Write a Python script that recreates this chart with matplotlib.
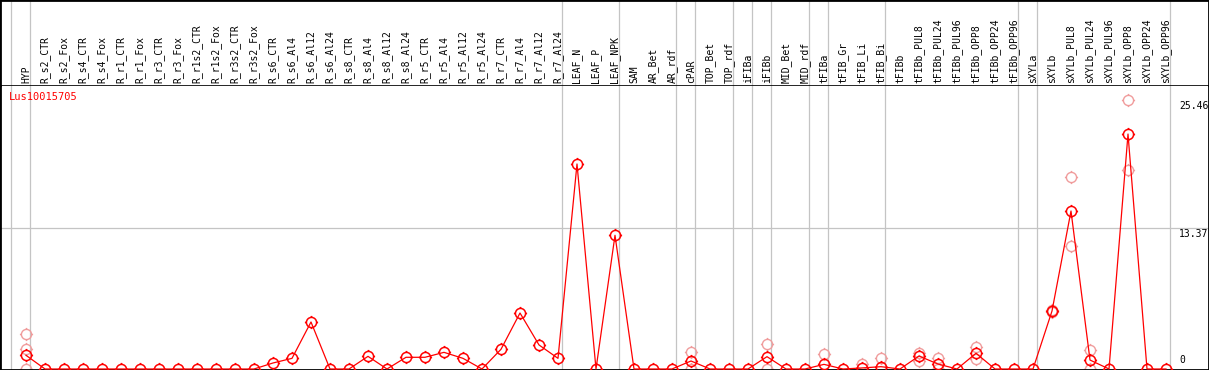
import numpy as np
import matplotlib
matplotlib.use("Agg")
import matplotlib.pyplot as plt
from matplotlib.path import Path

plt.rcParams['font.family'] = ['DejaVu Sans Mono']

# Sample labels (one column per tissue / treatment)
samples = ["HYP", "R_s2_CTR", "R_s2_Fox", "R_s4_CTR", "R_s4_Fox", "R_r1_CTR", "R_r1_Fox",
           "R_r3_CTR", "R_r3_Fox", "R_r1s2_CTR", "R_r1s2_Fox", "R_r3s2_CTR", "R_r3s2_Fox",
           "R_s6_CTR", "R_s6_Al4", "R_s6_Al12", "R_s6_Al24", "R_s8_CTR", "R_s8_Al4",
           "R_s8_Al12", "R_s8_Al24", "R_r5_CTR", "R_r5_Al4", "R_r5_Al12", "R_r5_Al24",
           "R_r7_CTR", "R_r7_Al4", "R_r7_Al12", "R_r7_Al24", "LEAF_N", "LEAF_P", "LEAF_NPK",
           "SAM", "AR_Bet", "AR_rdf", "cPAR", "TOP_Bet", "TOP_rdf", "iFIBa", "iFIBb",
           "MID_Bet", "MID_rdf", "tFIBa", "tFIB_Gr", "tFIB_Li", "tFIB_Bi", "tFIBb",
           "tFIBb_PUL8", "tFIBb_PUL24", "tFIBb_PUL96", "tFIBb_OPP8", "tFIBb_OPP24",
           "tFIBb_OPP96", "sXYLa", "sXYLb", "sXYLb_PUL8", "sXYLb_PUL24", "sXYLb_PUL96",
           "sXYLb_OPP8", "sXYLb_OPP24", "sXYLb_OPP96"]

# mean expression
means = [1.30, 0, 0, 0, 0, 0, 0, 0, 0, 0, 0, 0, 0,
         0.57, 1.01, 4.46, 0, 0, 1.20, 0, 1.11, 1.11, 1.58, 1.01, 0,
         1.87, 5.31, 2.28, 1.01, 19.44, 0, 12.68,
         0, 0, 0, 0.76, 0, 0, 0, 1.17, 0, 0, 0.44, 0, 0.10, 0.22, 0,
         1.23, 0.47, 0, 1.49, 0, 0, 0, 5.50, 14.98, 0.85, 0, 22.28, 0, 0]

# individual replicates (only where they differ from the mean)
replicates = {"HYP": [3.32, 1.87, 0], "cPAR": [1.58, 0], "iFIBb": [2.37, 0],
              "tFIBa": [1.45], "tFIB_Li": [0.47], "tFIB_Bi": [1.01],
              "tFIBb_PUL8": [1.49, 0.79], "tFIBb_PUL24": [1.04, 0],
              "tFIBb_OPP8": [2.12, 0.95], "sXYLb": [5.60, 5.40],
              "sXYLb_PUL8": [18.18, 11.69], "sXYLb_PUL24": [1.77, 0],
              "sXYLb_OPP8": [25.46, 18.87]}

# last sample of each group (separator drawn after it), -1 = before first
group_ends = [-1, 0, 28, 31, 34, 35, 37, 38, 39, 41, 42, 45, 52, 53, 60]

yticks = [0, 13.37, 25.46]
gene = "Lus10015705"

# circle marker with four small ticks outside
circ = Path.unit_circle()
ticks = []
for dx, dy in [(1, 0), (-1, 0), (0, 1), (0, -1)]:
    ticks.append(Path([(dx, dy), (1.3 * dx, 1.3 * dy)], [Path.MOVETO, Path.LINETO]))
tick_circle = Path.make_compound_path(circ, *ticks)

W, H = 1209, 370
fig = plt.figure(figsize=(W / 100, H / 100), dpi=100)
top = 85
ax = fig.add_axes([0, 0, 1, (H - top) / H])
lab = fig.add_axes([0, (H - top) / H, 1, top / H], sharex=ax)

x = np.arange(len(samples))
px_per_unit = 10.546
ax.set_xlim(-26 / 19, (W - 26) / 19)
ax.set_ylim(-1 / px_per_unit, (H - 1 - top) / px_per_unit)
lab.set_ylim(0, 1)

grey = '#c4c4c4'
for g in group_ends:
    ax.axvline(g + 4 / 19, color=grey, lw=0.9, zorder=0)
    lab.axvline(g + 4 / 19, color=grey, lw=0.9, zorder=0)
ax.axhline(13.37, color=grey, lw=0.9, zorder=0)

# replicate points
rx, ry = [], []
for name, vals in replicates.items():
    for v in vals:
        rx.append(samples.index(name))
        ry.append(v)
pink = '#f09c9c'
ax.plot(rx, ry, ls='none', marker=tick_circle, ms=9.5, mfc='none', mec=pink, mew=1.0, zorder=2)

# means
ax.plot(x, means, color='red', lw=0.9, zorder=3)
ax.plot(x, means, ls='none', marker=tick_circle, ms=9.5, mfc='none', mec='red', mew=1.1, zorder=3)

for t in yticks:
    if t == 0:
        ax.text(60.68, 0.35, "0", fontsize=7, ha='left', va='bottom')
    else:
        ax.text(60.68, t - 0.05, f"{t:.2f}", fontsize=7, ha='left', va='top')

ax.text(9 / W, (H - 92) / (H - top), gene, transform=ax.transAxes, color='red',
        fontsize=7.5, ha='left', va='top')

for i, s in enumerate(samples):
    lab.text(i, 2 / top, s, rotation=90, ha='center', va='bottom', fontsize=7)

for a in (ax, lab):
    a.set_xticks([])
    a.set_yticks([])
    for sp in a.spines.values():
        sp.set_color('black')
        sp.set_linewidth(2)
lab.spines['bottom'].set_visible(False)
ax.spines['top'].set_linewidth(1.2)

fig.savefig("out.png", dpi=100)
